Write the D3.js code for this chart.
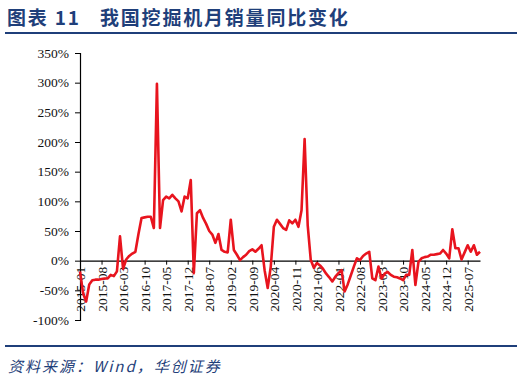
<!DOCTYPE html>
<html>
<head>
<meta charset="utf-8">
<script src="https://cdn.jsdelivr.net/npm/d3@7"></script>
<style>
  body { margin: 0; background: #fff; }
  svg { display: block; }
</style>
</head>
<body>
<div id="chart"></div>
<script>
// monthly YoY change of excavator sales, %, 2015-01 .. 2025-11
var yoy = [
  -18, -55, -69, -40, -33, -32, -32, -31, -30, -30, -24, -26,
  -18, 41, -14, 2, 8, 12, 15, 45, 72, 73, 74, 74,
  55, 298, 55, 102, 108, 105, 111, 105, 100, 83, 108, 105,
  136, -21, 80, 85, 72, 62, 50, 44, 30, 45, 18, 15,
  14, 69, 18, 10, 1, 6, 10, 16, 19, 15, 20, 26,
  -16, -46, -10, 57, 69, 62, 55, 52, 68, 63, 69, 57,
  85, 205, 60, 1, -12, -4, -8, -14, -22, -28, -35, -27,
  -21, -16, -52, -40, -25, -10, 4, 1, 8, 12, 15, -30,
  -33, -10, -30, -22, -19, -24, -27, -28, -30, -33, -24, -24,
  18, -41, -2, 4, 6, 7, 10, 10, 11, 12, 18, 12,
  4, 53, 21, 21, 2, 14, 26, 15, 26, 10, 15
]
var startYear = 2015
var tickLabels = ['2015-01', '2015-08', '2016-03', '2016-10', '2017-05', '2017-12',
  '2018-07', '2019-02', '2019-09', '2020-04', '2020-11', '2021-06', '2022-01',
  '2022-08', '2023-03', '2023-10', '2024-05', '2024-12', '2025-07']
var yTicks = [-100, -50, 0, 50, 100, 150, 200, 250, 300, 350]

// month labels for every point
var months = yoy.map(function (v, i) {
  var y = startYear + Math.floor(i / 12)
  var m = (i % 12) + 1
  return y + '-' + (m < 10 ? '0' + m : m)
})
var data = months.map(function (m, i) { return { month: m, value: yoy[i] } })

var width = 524
var height = 382
var navy = '#1f3f7a'

var svg = d3.select('#chart').append('svg')
  .attr('width', width)
  .attr('height', height)

// title
var title = svg.append('text')
  .attr('x', 7)
  .attr('y', 25)
  .attr('fill', navy)
  .style('font-family', '"Noto Sans CJK SC", sans-serif')
  .style('font-weight', 'bold')
  .style('font-size', '19px')
  .style('letter-spacing', '1.8px')
title.append('tspan').text('图表 11')
title.append('tspan').attr('x', 100).text('我国挖掘机月销量同比变化')

svg.append('line')
  .attr('x1', 5).attr('x2', 517)
  .attr('y1', 33).attr('y2', 33)
  .attr('stroke', navy).attr('stroke-width', 2)

svg.append('line')
  .attr('x1', 5).attr('x2', 517)
  .attr('y1', 346).attr('y2', 346)
  .attr('stroke', navy).attr('stroke-width', 2)

svg.append('text')
  .attr('x', 8)
  .attr('y', 372)
  .attr('fill', navy)
  .style('font-family', '"Noto Sans CJK SC", sans-serif')
  .style('font-style', 'italic')
  .style('font-size', '15px')
  .style('letter-spacing', '2px')
  .text('资料来源：Wind，华创证券')

// scales
var x = d3.scalePoint()
  .domain(months)
  .range([80, 480])

var y = d3.scaleLinear()
  .domain([-100, 350])
  .range([320, 53])

// y axis
var yAxis = svg.append('g')
  .attr('transform', 'translate(80,0)')
  .call(d3.axisLeft(y)
    .tickValues(yTicks)
    .tickSize(5)
    .tickPadding(6)
    .tickFormat(function (d) { return d + '%' }))
yAxis.select('.domain').attr('stroke', '#000').attr('stroke-width', 1.2)
yAxis.selectAll('.tick line').attr('stroke', '#000')
yAxis.selectAll('text')
  .style('font-family', '"Liberation Serif", serif')
  .style('font-size', '13.5px')
  .attr('fill', '#111')

// x axis at zero
var xAxis = svg.append('g')
  .attr('transform', 'translate(0,' + y(0) + ')')
  .call(d3.axisBottom(x)
    .tickValues(tickLabels)
    .tickSize(4)
    .tickSizeOuter(0))
xAxis.select('.domain').attr('stroke', '#000').attr('stroke-width', 1.2)
xAxis.selectAll('.tick line').attr('stroke', '#000')
xAxis.selectAll('text')
  .attr('transform', 'rotate(-90)')
  .attr('x', -6)
  .attr('y', 0)
  .attr('dy', '0.35em')
  .style('text-anchor', 'end')
  .style('font-family', '"Liberation Serif", serif')
  .style('font-size', '13.5px')
  .attr('fill', '#111')

// the line
var line = d3.line()
  .x(function (d) { return x(d.month) })
  .y(function (d) { return y(d.value) })

svg.append('path')
  .datum(data)
  .attr('d', line)
  .attr('fill', 'none')
  .attr('stroke', '#e8141e')
  .attr('stroke-width', 2.6)
  .attr('stroke-linejoin', 'round')
</script>
</body>
</html>
